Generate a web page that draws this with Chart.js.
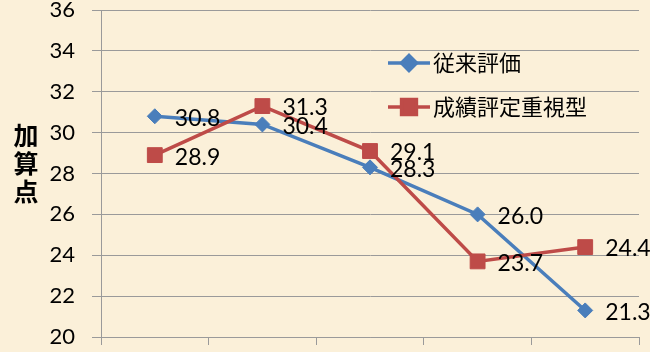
<!DOCTYPE html>
<html>
<head>
<meta charset="utf-8">
<script src="https://cdn.jsdelivr.net/npm/chart.js@4/dist/chart.umd.min.js"></script>
<style>
  html, body { margin: 0; padding: 0; background: #fbf0d9; }
  #wrap { width: 650px; height: 352px; }
</style>
</head>
<body>
<div id="wrap"><canvas id="c" width="650" height="352"></canvas></div>
<script>
// Five evaluation groups (axis labels are not shown)
const categories = ['1', '2', '3', '4', '5'];
const seriesNames = ['従来評価', '成績評定重視型'];
const conventional = [30.8, 30.4, 28.3, 26.0, 21.3];
const gradeWeighted = [28.9, 31.3, 29.1, 23.7, 24.4];
const yTicks = [20, 22, 24, 26, 28, 30, 32, 34, 36];
const yTitle = '加算点';

const BLUE = '#4a7ebb';
const RED = '#be4b48';
const GRID = '#9a9a9a';
const NUM_FONT = 'Lato, "Liberation Sans", sans-serif';
const CJK_FONT = '"Noto Sans CJK JP", "Noto Sans", sans-serif';

// Parchment-coloured backdrop
const backdrop = {
  id: 'backdrop',
  beforeDraw(chart) {
    const { ctx, width, height } = chart;
    ctx.save();
    ctx.fillStyle = '#fbf0d9';
    ctx.fillRect(0, 0, width, height);
    ctx.restore();
  }
};

// Vertical, character-stacked y axis title
const stackedTitle = {
  id: 'stackedTitle',
  afterDraw(chart) {
    const { ctx } = chart;
    const chars = Array.from(yTitle);
    const step = 28;
    const cy = chart.scales.y.getPixelForValue(28.5);
    ctx.save();
    ctx.fillStyle = '#000';
    ctx.font = 'bold 25px ' + CJK_FONT;
    ctx.textAlign = 'center';
    ctx.textBaseline = 'middle';
    chars.forEach((ch, i) => {
      ctx.fillText(ch, 26, cy + (i - (chars.length - 1) / 2) * step);
    });
    ctx.restore();
  }
};

// Value labels to the right of each point
const valueLabels = {
  id: 'valueLabels',
  afterDatasetsDraw(chart) {
    const { ctx } = chart;
    ctx.save();
    ctx.fillStyle = '#000';
    ctx.font = '23px ' + NUM_FONT;
    ctx.textAlign = 'left';
    ctx.textBaseline = 'middle';
    chart.data.datasets.forEach((ds, di) => {
      const meta = chart.getDatasetMeta(di);
      meta.data.forEach((pt, i) => {
        ctx.fillText(ds.data[i].toFixed(1), pt.x + 20, pt.y + 2);
      });
    });
    ctx.restore();
  }
};

// Legend placed inside the plot area
const insideLegend = {
  id: 'insideLegend',
  afterDraw(chart) {
    const { ctx, chartArea } = chart;
    const x0 = chartArea.left + 287;
    const rows = [chartArea.top + 53, chartArea.top + 97];
    ctx.save();
    chart.data.datasets.forEach((ds, i) => {
      const y = rows[i];
      ctx.strokeStyle = ds.borderColor;
      ctx.lineWidth = ds.borderWidth;
      ctx.beginPath();
      ctx.moveTo(x0, y);
      ctx.lineTo(x0 + 42, y);
      ctx.stroke();
      ctx.fillStyle = ds.backgroundColor;
      ctx.strokeStyle = ds.borderColor;
      Chart.helpers.drawPoint(ctx, {
        pointStyle: ds.pointStyle,
        radius: ds.pointRadius,
        borderWidth: 1
      }, x0 + 21, y);
      ctx.fillStyle = '#000';
      ctx.font = '22px ' + CJK_FONT;
      ctx.textAlign = 'left';
      ctx.textBaseline = 'middle';
      ctx.fillText(ds.label, x0 + 45, y);
    });
    ctx.restore();
  }
};

new Chart(document.getElementById('c'), {
  type: 'line',
  data: {
    labels: categories,
    datasets: [
      {
        label: seriesNames[0],
        data: conventional,
        borderColor: BLUE,
        backgroundColor: BLUE,
        borderWidth: 3.5,
        pointStyle: 'rectRot',
        pointRadius: 7.5,
        pointBorderWidth: 1,
        tension: 0,
        order: 2
      },
      {
        label: seriesNames[1],
        data: gradeWeighted,
        borderColor: RED,
        backgroundColor: RED,
        borderWidth: 3.5,
        pointStyle: 'rect',
        pointRadius: 10.5,
        pointBorderWidth: 1,
        tension: 0,
        order: 1
      }
    ]
  },
  options: {
    responsive: false,
    animation: false,
    devicePixelRatio: 1,
    layout: { autoPadding: false, padding: { top: 10, right: 11, left: 0, bottom: 0 } },
    plugins: {
      legend: { display: false },
      tooltip: { enabled: false },
      title: { display: false }
    },
    scales: {
      x: {
        offset: true,
        grid: {
          offset: true,
          drawOnChartArea: false,
          drawTicks: true,
          tickLength: 8,
          color: GRID,
          lineWidth: 1
        },
        border: { color: GRID, width: 1 },
        ticks: { display: false },
        afterFit(scale) { scale.height = 15; }
      },
      y: {
        min: yTicks[0],
        max: yTicks[yTicks.length - 1],
        afterBuildTicks(scale) { scale.ticks = yTicks.map(v => ({ value: v })); },
        grid: {
          color: GRID,
          lineWidth: 1,
          tickLength: 9
        },
        border: { color: GRID, width: 1 },
        ticks: {
          color: '#000',
          font: { family: NUM_FONT, size: 22 },
          padding: 17
        },
        afterFit(scale) {
          scale.width = 101;
          scale.paddingTop = 0;
          scale.paddingBottom = 0;
        }
      }
    }
  },
  plugins: [backdrop, stackedTitle, valueLabels, insideLegend]
});
</script>
</body>
</html>
